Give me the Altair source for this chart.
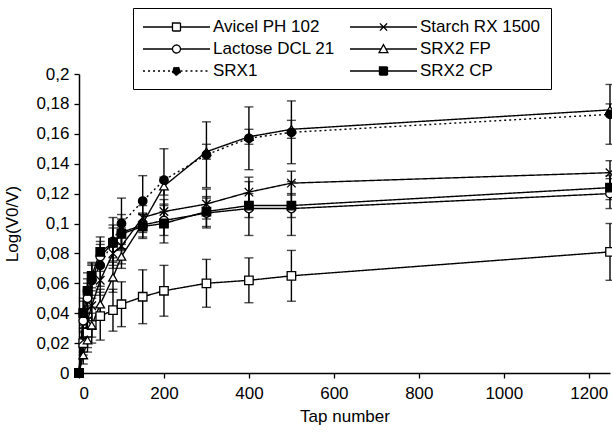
import altair as alt
import pandas as pd

# ---- data ----
taps = [0, 10, 20, 30, 50, 80, 100, 150, 200, 300, 400, 500, 1250]

series_names = ["Avicel PH 102", "Starch RX 1500", "Lactose DCL 21", "SRX2 FP", "SRX1", "SRX2 CP"]

avicel = [0, 0.020, 0.027, 0.032, 0.038, 0.042, 0.046, 0.051, 0.055, 0.060, 0.062, 0.065, 0.081]
avicel_err = [0, 0.008, 0.010, 0.012, 0.016, 0.014, 0.015, 0.018, 0.017, 0.016, 0.015, 0.017, 0.019]

starch = [0, 0.022, 0.035, 0.045, 0.062, 0.080, 0.085, 0.104, 0.108, 0.113, 0.121, 0.127, 0.134]
starch_err = [0, 0.008, 0.010, 0.010, 0.010, 0.010, 0.012, 0.008, 0.008, 0.010, 0.010, 0.008, 0.008]

lactose = [0, 0.035, 0.050, 0.062, 0.078, 0.087, 0.094, 0.099, 0.102, 0.107, 0.110, 0.110, 0.120]
lactose_err = [0, 0.008, 0.010, 0.010, 0.010, 0.012, 0.012, 0.008, 0.010, 0.010, 0.018, 0.018, 0.010]

srx2fp = [0, 0.012, 0.022, 0.032, 0.046, 0.064, 0.078, 0.100, 0.125, 0.148, 0.158, 0.163, 0.176]
srx2fp_err = [0, 0.006, 0.008, 0.008, 0.010, 0.010, 0.008, 0.006, 0.006, 0.005, 0.005, 0.006, 0.004]

srx1 = [0, 0.040, 0.055, 0.062, 0.072, 0.088, 0.100, 0.115, 0.129, 0.146, 0.157, 0.161, 0.173]
srx1_err = [0, 0.010, 0.012, 0.012, 0.014, 0.016, 0.017, 0.017, 0.021, 0.022, 0.021, 0.021, 0.020]

srx2cp = [0, 0.040, 0.055, 0.065, 0.081, 0.087, 0.093, 0.098, 0.100, 0.108, 0.112, 0.112, 0.124]
srx2cp_err = [0, 0.008, 0.008, 0.008, 0.010, 0.010, 0.010, 0.008, 0.013, 0.010, 0.008, 0.008, 0.008]

x_ticks = [0, 200, 400, 600, 800, 1000, 1200]
y_ticks = [0, 0.02, 0.04, 0.06, 0.08, 0.1, 0.12, 0.14, 0.16, 0.18, 0.2]

# ---- styles ----
plot_shapes = ["square", "M-1,-1L1,1M-1,1L1,-1", "circle", "triangle-up", "circle", "square"]
fills = ["white", "white", "white", "white", "black", "black"]
strokes = ["black"] * 6
dashes = [[1, 0], [1, 0], [1, 0], [1, 0], [2, 3], [1, 0]]

# legend glyphs: line segment with the marker in its middle (units of 8 px)
def _seg(gap):
    return "M-1.125,0L%.3f,0M%.3f,0L7.25,0" % (3.06 - gap, 3.06 + gap)

SQ = "M2.56,-0.5L3.56,-0.5L3.56,0.5L2.56,0.5Z"
CI = "M2.56,0A0.5,0.5 0 1,0 3.56,0A0.5,0.5 0 1,0 2.56,0Z"
legend_paths = [
    _seg(0.5) + SQ,
    "M-1.125,0L7.25,0M2.61,-0.45L3.51,0.45M2.61,0.45L3.51,-0.45",
    _seg(0.5) + CI,
    _seg(0.3) + "M3.06,-0.55L3.61,0.45L2.51,0.45Z",
    _seg(0.5) + CI,
    _seg(0.5) + SQ,
]

rows = []
for name, vals, errs in zip(series_names,
                            [avicel, starch, lactose, srx2fp, srx1, srx2cp],
                            [avicel_err, starch_err, lactose_err, srx2fp_err, srx1_err, srx2cp_err]):
    for t, v, e in zip(taps, vals, errs):
        rows.append({"tap": t, "series": name, "val": v, "lo": v - e, "hi": v + e})
df = pd.DataFrame(rows)

FONT = "Liberation Sans"
FS = 17

x_enc = alt.X("tap:Q", scale=alt.Scale(domain=[0, 1250], nice=False, zero=True),
              axis=alt.Axis(values=x_ticks, format="d", title="Tap number",
                            labelPadding=7, titlePadding=7, tickSize=5))
y_axis = alt.Axis(values=y_ticks, labelExpr="replace(format(datum.value, '~g'), '.', ',')",
                  title="Log(V0/V)", tickSize=5, labelPadding=5, titlePadding=14)
y_scale = alt.Scale(domain=[0, 0.2], nice=False)

base = alt.Chart(df)

errbars = base.mark_errorbar(ticks={"size": 9}, thickness=1.4, color="black").encode(
    x=x_enc,
    y=alt.Y("lo:Q", scale=y_scale, axis=y_axis, title="Log(V0/V)"),
    y2="hi:Q",
)

lines = base.mark_line(color="black", strokeWidth=1.4, clip=False).encode(
    x=x_enc,
    y=alt.Y("val:Q", scale=y_scale, axis=y_axis, title="Log(V0/V)"),
    detail="series:N",
    strokeDash=alt.StrokeDash("series:N", scale=alt.Scale(domain=series_names, range=dashes), legend=None),
)

points = base.mark_point(filled=True, stroke="black", strokeWidth=1.3, size=72, opacity=1).encode(
    x=x_enc,
    y=alt.Y("val:Q", scale=y_scale, axis=y_axis, title="Log(V0/V)"),
    shape=alt.Shape("series:N", scale=alt.Scale(domain=series_names, range=plot_shapes), legend=None),
    fill=alt.Fill("series:N", scale=alt.Scale(domain=series_names, range=fills), legend=None),
)

leg = alt.Legend(title=None, orient="none", legendX=54, legendY=-66, columns=2, direction="horizontal",
                 symbolSize=256, labelOffset=52, padding=10, rowPadding=5, columnPadding=12,
                 strokeColor="black", fillColor="white", labelFont=FONT, labelFontSize=FS,
                 labelColor="black", symbolStrokeWidth=1.3)

legend_layer = base.transform_filter("false").mark_point(
    filled=True, strokeWidth=1.3, opacity=1).encode(
    x=x_enc,
    y=alt.Y("val:Q", scale=y_scale, axis=y_axis, title="Log(V0/V)"),
    shape=alt.Shape("series:N", scale=alt.Scale(domain=series_names, range=legend_paths), legend=leg),
    fill=alt.Fill("series:N", scale=alt.Scale(domain=series_names, range=fills), legend=leg),
    stroke=alt.Stroke("series:N", scale=alt.Scale(domain=series_names, range=strokes), legend=leg),
    strokeDash=alt.StrokeDash("series:N", scale=alt.Scale(domain=series_names, range=dashes), legend=leg),
)

chart = alt.layer(errbars, lines, points, legend_layer).resolve_scale(
    shape="independent", fill="independent", strokeDash="independent", stroke="independent"
).properties(
    width=531, height=299,
    background="white",
    autosize=alt.AutoSizeParams(type="none"),
    padding={"left": 79, "top": 74, "right": 2, "bottom": 67},
).configure_view(stroke=None).configure_axis(
    domainColor="black", domainWidth=1.5, tickColor="black", tickWidth=1.3,
    labelFont=FONT, labelFontSize=FS, labelColor="black",
    titleFont=FONT, titleFontSize=FS, titleColor="black", titleFontWeight="normal",
    grid=False,
)

chart.save("out.html", embed_options={"renderer": "svg", "actions": False})
